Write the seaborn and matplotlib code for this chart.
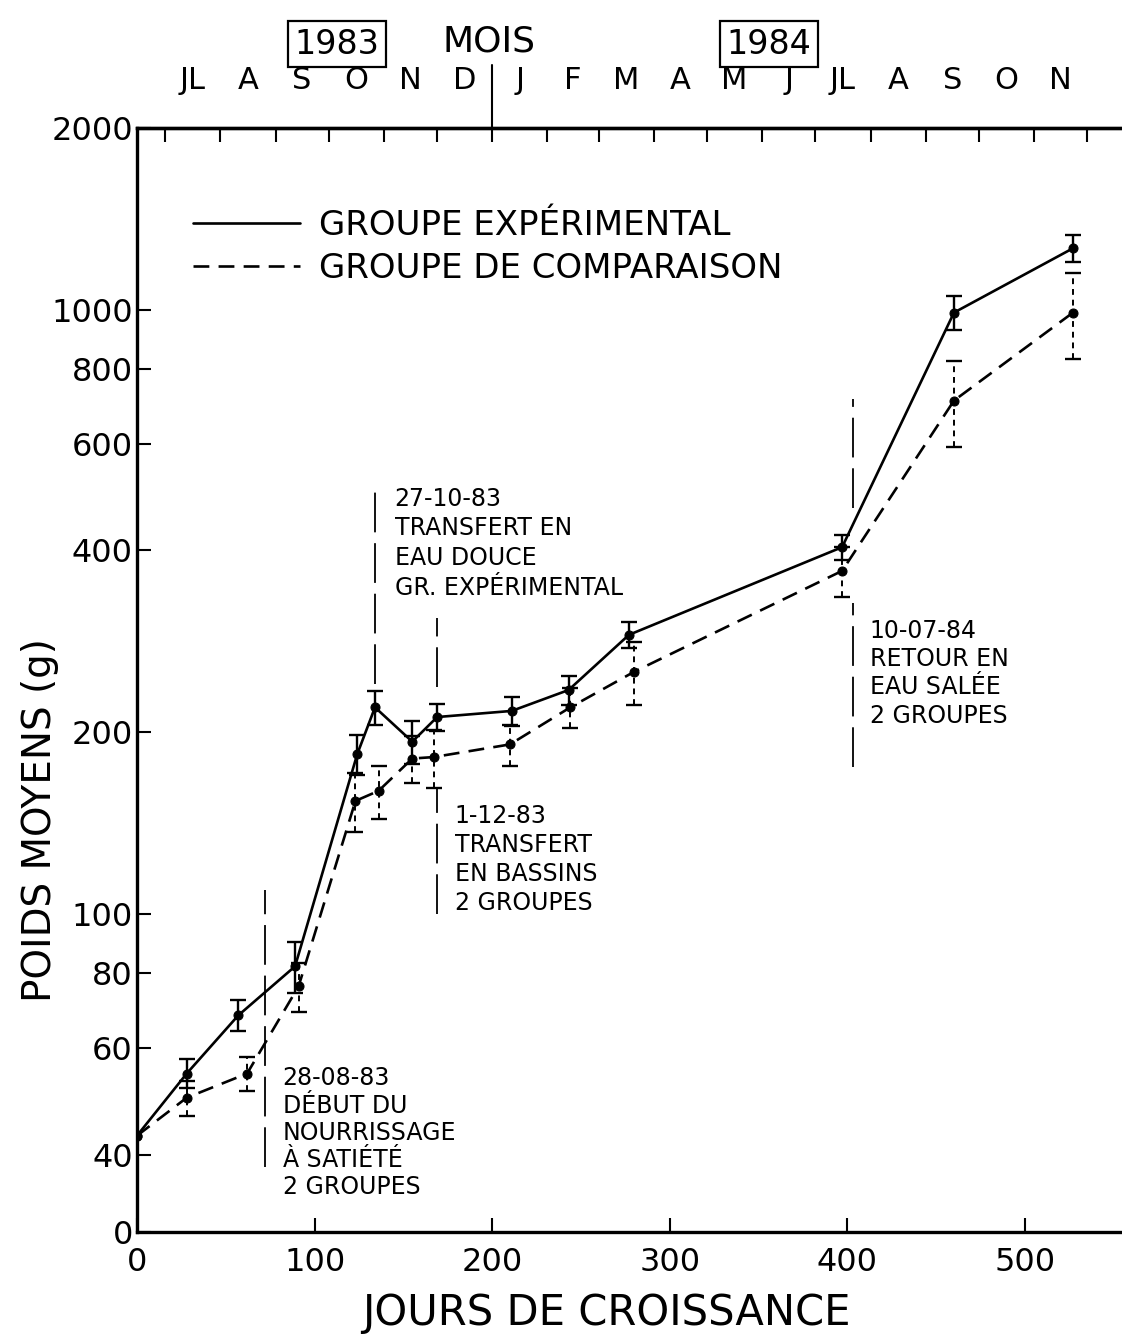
import numpy as np
import pandas as pd
import matplotlib
matplotlib.use("Agg")
import matplotlib.pyplot as plt
import matplotlib.transforms as mtrans
from matplotlib.lines import Line2D
import seaborn as sns

# ---------------- data ----------------
exp_jours = [0, 28, 57, 89, 124, 134, 155, 169, 211, 243, 277, 397, 460, 527]
exp_poids = [43, 54.5, 68, 82, 184, 220, 193, 212, 217, 235, 290, 405, 990, 1265]
exp_err = [0, 3, 4, 8, 14, 14, 16, 11, 12, 13, 14, 19, 63, 65]

comp_jours = [0, 28, 62, 91, 123, 136, 155, 167, 210, 244, 280, 397, 460, 527]
comp_poids = [43, 49.7, 54.5, 76, 154, 160, 181, 182, 191, 220, 252, 370, 708, 990]
comp_err = [0, 3.3, 3.5, 7, 17, 16, 16, 20, 15, 17, 30, 35, 115, 160]

groupes = ["GROUPE EXPÉRIMENTAL", "GROUPE DE COMPARAISON"]

x_ticks = [0, 100, 200, 300, 400, 500]
y_bas = 29.8
y_ticks = [y_bas, 40, 60, 80, 100, 200, 400, 600, 800, 1000, 2000]
y_ticklabels = ["0", "40", "60", "80", "100", "200", "400", "600", "800", "1000", "2000"]

origine = pd.Timestamp("1983-06-15")
debuts_mois = pd.date_range("1983-07-01", "1983-12-01", freq="MS").append(
    pd.date_range("1984-01-01", "1984-12-01", freq="MS"))
mois_labels = ["JL", "A", "S", "O", "N", "D", "J", "F", "M", "A", "M", "J",
               "JL", "A", "S", "O", "N"]
jour_an = 200

# vertical annotation lines: (day, top, bottom)
annot_lignes = [(72, 109.5, 38.2), (134, 520, 240), (169, 309, 238), (169, 162, 100),
                (403, 712, 470), (403, 327, 175)]
annot_textes = [
    (82, 56, "28-08-83\nDÉBUT DU\nNOURRISSAGE\nÀ SATIÉTÉ\n2 GROUPES", 1.17),
    (145, 510, "27-10-83\nTRANSFERT EN\nEAU DOUCE\nGR. EXPÉRIMENTAL", 1.3),
    (179, 152, "1-12-83\nTRANSFERT\nEN BASSINS\n2 GROUPES", 1.25),
    (412.5, 308, "10-07-84\nRETOUR EN\nEAU SALÉE\n2 GROUPES", 1.22),
]

# ---------------- style ----------------
sns.set_theme(style="ticks")
plt.rcParams["font.family"] = ["DejaVu Sans"]
plt.rcParams.update({"axes.linewidth": 2.4, "text.color": "black",
                     "axes.labelcolor": "black", "xtick.color": "black",
                     "ytick.color": "black", "axes.edgecolor": "black"})

fig = plt.figure(figsize=(11.22, 13.34), dpi=100)
ax = fig.add_axes([0.1221, 0.0765, 0.8779, 0.8275])
ax.set_yscale("log")

df = pd.concat([
    pd.DataFrame({"jour": exp_jours, "poids": exp_poids, "groupe": groupes[0]}),
    pd.DataFrame({"jour": comp_jours, "poids": comp_poids, "groupe": groupes[1]}),
])

sns.lineplot(data=df, x="jour", y="poids", style="groupe", style_order=groupes,
             dashes={groupes[0]: "", groupes[1]: (6, 3.5)},
             markers={groupes[0]: "o", groupes[1]: "o"},
             color="black", lw=1.9, markersize=6.5, markeredgecolor="black",
             estimator=None, sort=False, legend=False, ax=ax)

ax.errorbar(exp_jours[1:], exp_poids[1:], yerr=exp_err[1:], fmt="none",
            ecolor="black", elinewidth=1.7, capsize=6, capthick=1.7)
eb = ax.errorbar(comp_jours[1:], comp_poids[1:], yerr=comp_err[1:], fmt="none",
                 ecolor="black", elinewidth=1.4, capsize=6, capthick=1.7)
eb[2][0].set_linestyle((0, (3, 2.5)))

for d, yt, yb in annot_lignes:
    ax.plot([d, d], [yb, yt], color="black", lw=1.3, ls=(0, (22, 6)))

for d, yv, txt, ls in annot_textes:
    ax.text(d, yv, txt, ha="left", va="top", fontsize=17, linespacing=ls,
            color="black")

# axes
ax.set_xlim(0, 554.6)
ax.set_ylim(y_bas, 2000)
ax.set_xticks(x_ticks)
ax.set_xticklabels([str(v) for v in x_ticks])
ax.yaxis.set_minor_locator(matplotlib.ticker.NullLocator())
ax.set_yticks(y_ticks)
ax.set_yticklabels(y_ticklabels)
ax.tick_params(axis="x", direction="in", length=10, width=1.5, labelsize=23, pad=11)
ax.tick_params(axis="y", direction="in", length=10, width=1.5, labelsize=23, pad=3)
ax.spines["right"].set_visible(False)
ax.grid(False)

ax.set_xlabel("JOURS DE CROISSANCE", fontsize=30)
ax.set_ylabel("POIDS MOYENS (g)", fontsize=28)
ax.xaxis.set_label_coords(0.477, -0.054)
ax.yaxis.set_label_coords(-0.079, 0.373)

# top axis (months)
bornes = [(d - origine).days for d in debuts_mois]
milieux = [(a + b) / 2 for a, b in zip(bornes[:-1], bornes[1:])]
sec = ax.secondary_xaxis("top")
sec.set_xticks(bornes)
sec.set_xticklabels([""] * len(bornes))
sec.set_xticks(milieux, minor=True)
sec.set_xticklabels(mois_labels, minor=True)
sec.tick_params(which="major", direction="in", length=10, width=1.5)
sec.tick_params(which="minor", length=0, labelsize=22, pad=24)
sec.spines["top"].set_linewidth(2.4)

trans = mtrans.blended_transform_factory(ax.transData, ax.transAxes)
ax.plot([jour_an, jour_an], [1.0, 1.057], color="black", lw=1.5,
        transform=trans, clip_on=False)
boxkw = dict(boxstyle="square,pad=0.2", fc="white", ec="black", lw=1.6)
ax.text(112.5, 1.076, "1983", transform=trans, ha="center", va="center",
        fontsize=24, bbox=boxkw)
ax.text(jour_an - 2, 1.078, "MOIS", transform=trans, ha="center", va="center",
        fontsize=26)
ax.text(356, 1.076, "1984", transform=trans, ha="center", va="center",
        fontsize=24, bbox=boxkw)

handles = [Line2D([], [], color="black", lw=1.9, ls="-"),
           Line2D([], [], color="black", lw=1.9, ls=(0, (6, 3.5)))]
ax.legend(handles, groupes, loc="upper left", bbox_to_anchor=(0.057, 0.927),
          frameon=False, fontsize=24.5, handlelength=3.15, handletextpad=0.55,
          labelspacing=0.3, borderaxespad=0, borderpad=0)

fig.savefig("out.png", dpi=100)
